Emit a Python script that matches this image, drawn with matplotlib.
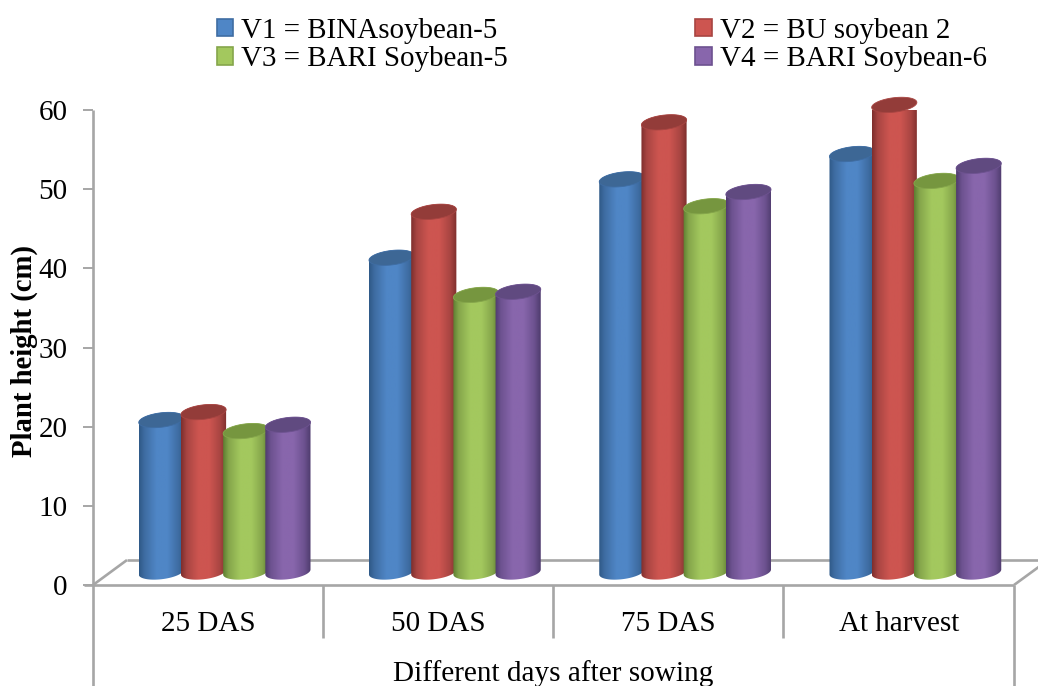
import numpy as np
import matplotlib
matplotlib.use("Agg")
import matplotlib.pyplot as plt
from matplotlib.path import Path
from matplotlib.patches import PathPatch, Polygon, Patch

categories = ["25 DAS", "50 DAS", "75 DAS", "At harvest"]
series_names = ["V1 = BINAsoybean-5", "V2 = BU soybean 2",
                "V3 = BARI Soybean-5", "V4 = BARI Soybean-6"]
v1 = [19.2, 39.7, 49.6, 52.8]
v2 = [20.2, 45.5, 56.8, 59.0]
v3 = [17.8, 35.0, 46.2, 49.4]
v4 = [18.6, 35.4, 48.0, 51.3]
y_ticks = [0, 10, 20, 30, 40, 50, 60]
x_title = "Different days after sowing"
y_title = "Plant height (cm)"

mid_colors = ["#4f86c6", "#cd5550", "#a3c85e", "#8866ac"]
shade_colors = ["#3f6da3", "#a84542", "#85a64b", "#6d5290"]
edge_colors = ["#2f5a88", "#7f2f2d", "#5f7f33", "#4f3c6e"]
top_colors = ["#3d6795", "#933c39", "#76963f", "#604a80"]
grey = "#a6a6a6"

W, H = 1038, 686
plt.rcParams["font.family"] = ["Liberation Serif", "DejaVu Serif"]
fig = plt.figure(figsize=(W / 100, H / 100), dpi=100)
L, R, T, B = 93, 1014, 110, 585
ax = fig.add_axes([L / W, 1 - B / H, (R - L) / W, (B - T) / H])
ax.set_xlim(0, 4)
ax.set_ylim(0, 60)
ax.patch.set_alpha(0)
sx = 4 / (R - L)   # data units per pixel
sy = 60 / (B - T)

for s in ["top", "right", "bottom", "left"]:
    ax.spines[s].set_visible(False)

def px(xp, yp):
    """Figure pixel position to data coordinates (frame furniture only)."""
    return (xp - L) * sx, (B - yp) * sy

# floor
line_kw = dict(color=grey, lw=1.9, clip_on=False, solid_capstyle="butt", zorder=1)
for a, b in [((93, 585), (127, 560)), ((127, 560), (1040, 560)),
             ((1014, 585), (1040, 566)), ((84, 585), (1014, 585))]:
    pa, pb = px(*a), px(*b)
    ax.plot([pa[0], pb[0]], [pa[1], pb[1]], **line_kw)
# left axis and separators
for xp, yend, yst in [(93, 686, 110), (323, 638, 585), (553, 638, 585), (783, 638, 585), (1014, 686, 585)]:
    pa, pb = px(xp, yst), px(xp, yend)
    ax.plot([pa[0], pb[0]], [pa[1], pb[1]], **line_kw)

ax.set_yticks(y_ticks)
ax.set_xticks(np.arange(len(categories)) + 0.5)
ax.set_xticklabels(categories)
ax.tick_params(axis="x", length=0, pad=18.5, labelsize=21, colors="black")
ax.tick_params(axis="y", length=7.2, width=1.4, color=grey, pad=11, labelsize=21, labelcolor="black")

# cylinders
depth_x = 16.5 * sx
base_y = 13 * sy
bar_w = 45.5 * sx
step = 42.2 * sx
tilt = np.radians(7)

def ellipse(cx, cy, t):
    rxp, ryp = 22.75, 7.2
    xp = rxp * np.cos(t) * np.cos(tilt) - ryp * np.sin(t) * np.sin(tilt)
    yp = rxp * np.cos(t) * np.sin(tilt) + ryp * np.sin(t) * np.cos(tilt)
    return cx + xp * sx, cy + yp * sy

for si, vals in enumerate([v1, v2, v3, v4]):
    cmap = matplotlib.colors.LinearSegmentedColormap.from_list(
        "c", [(0, edge_colors[si]), (0.12, shade_colors[si]), (0.38, mid_colors[si]),
              (0.62, mid_colors[si]), (0.86, shade_colors[si]), (1, edge_colors[si])])
    for ci, val in enumerate(vals):
        cx = ci + 0.5 + depth_x + (si - 1.5) * step
        top = base_y + val
        t1 = np.linspace(np.pi, 2 * np.pi, 40)   # lower half of bottom ellipse
        t2 = np.linspace(0, np.pi, 40)           # upper half of top ellipse
        bx, by = ellipse(cx, base_y, t1)
        tx, ty = ellipse(cx, top, t2)
        verts = np.vstack([np.c_[bx, by], np.c_[tx, ty], [[bx[0], by[0]]]])
        z = 3 + si + ci * 10
        clip = PathPatch(Path(verts), transform=ax.transData, fc="none", ec="none")
        ax.add_patch(clip)
        im = ax.imshow(np.linspace(0, 1, 64)[None, :], cmap=cmap, aspect="auto",
                       extent=[cx - bar_w / 2, cx + bar_w / 2, 0, top + 2], zorder=z,
                       origin="lower", interpolation="bilinear")
        im.set_clip_path(clip)
        t = np.linspace(0, 2 * np.pi, 80)
        ex, ey = ellipse(cx, top, t)
        ax.add_patch(Polygon(np.c_[ex, ey], closed=True, fc=top_colors[si],
                             ec=shade_colors[si], lw=0.6, zorder=z + 0.5, clip_on=False))
ax.set_xlim(0, 4)
ax.set_ylim(0, 60)

# titles
fig.text(24 / W, 1 - 351 / H, y_title, rotation=90, ha="center", va="center",
         fontsize=20.7, fontweight="bold")
fig.text(553 / W, 1 - 674 / H, x_title, ha="center", va="center", fontsize=21.1)

# legend (matplotlib fills column-wise)
order = [0, 2, 1, 3]
handles = [Patch(fc=mid_colors[i], ec=shade_colors[i], lw=1.2) for i in order]
labels = [series_names[i] for i in order]
fig.legend(handles, labels, ncol=2, frameon=False, fontsize=20.9,
           loc="upper left", bbox_to_anchor=(211 / W, 1 - 12 / H), borderaxespad=0,
           borderpad=0.2, handlelength=0.57, handleheight=0.57, handletextpad=0.28,
           labelspacing=0.08, columnspacing=6.45)

fig.savefig("out.png", dpi=100)
